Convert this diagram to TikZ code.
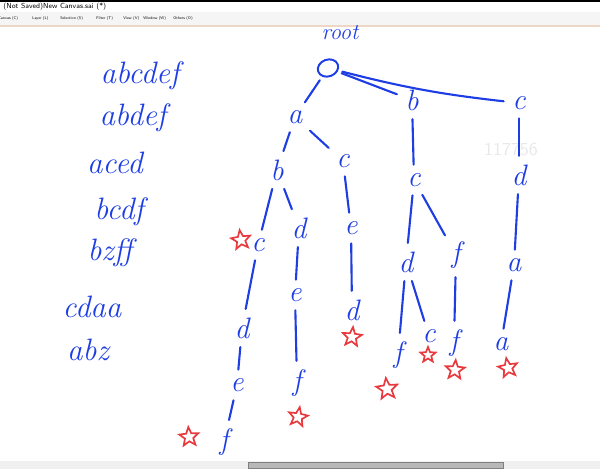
\documentclass[tikz,border=0pt]{standalone}
\usepackage{xcolor}
\usepackage{tikz}
\usetikzlibrary{shapes.geometric, calc}
\definecolor{penblue}{RGB}{30,62,228}
\definecolor{penred}{RGB}{232,58,62}
\definecolor{barline}{RGB}{238,214,196}
\tikzset{
  letter/.style={text=penblue,font=\fontsize{21}{24}\selectfont\itshape,inner sep=3pt},
  word/.style={text=penblue,font=\fontsize{22}{24}\selectfont\itshape,inner sep=0pt},
  br/.style={draw=penblue,line width=1.5pt,line cap=round,shorten <=3pt,shorten >=3pt},
  endstar/.style={star,star points=5,star point ratio=2.3,draw=penred,line width=1.2pt,
    minimum size=5mm,inner sep=0pt},
  menu/.style={font=\fontsize{2.8}{3.5}\selectfont\sffamily,inner sep=0pt,anchor=west}
}

\begin{document}
\begin{tikzpicture}[x=0.025cm,y=-0.025cm]
\useasboundingbox (0,0) rectangle (600,469);
% window chrome
\fill[black] (0,0) rectangle (600,1.5);
\fill[black!4] (0,12) rectangle (600,25);
\fill[barline] (0,25) rectangle (600,26.5);
\node[font=\fontsize{5.2}{6}\selectfont\sffamily,inner sep=0pt,anchor=west] (title) at (3,7) {(Not Saved)New Canvas.sai (*)};
\node[menu] (mcanvas) at (-2,18.5) {Canvas (C)};
\node[menu] (mlayer) at (32,18.5) {Layer (L)};
\node[menu] (msel) at (60,18.5) {Selection (S)};
\node[menu] (mfilter) at (96,18.5) {Filter (T)};
\node[menu] (mview) at (123,18.5) {View (V)};
\node[menu] (mwin) at (143,18.5) {Window (W)};
\node[menu] (mother) at (173,18.5) {Others (O)};
\fill[black!6] (0,461) rectangle (600,469);
\draw[fill=black!28,draw=black!50,line width=0.5pt] (248.5,462.5) rectangle (503.5,468.5);
\node[text=black!9,font=\fontsize{13}{15}\selectfont\sffamily] (mark) at (511,150) {117756};

% words
\node[word] (w1) at (140,76) {abcdef};
\node[word] (w2) at (133,118) {abdef};
\node[word] (w3) at (115,163) {aced};
\node[word] (w4) at (119,212) {bcdf};
\node[word] (w5) at (110,253) {bzff};
\node[word] (w6) at (92,307) {cdaa};
\node[word] (w7) at (88,350) {abz};

% trie
\node[letter,font=\fontsize{16}{18}\selectfont\itshape] (rootlbl) at (340,33) {root};
\node[ellipse,draw=penblue,line width=1.4pt,minimum width=0.52cm,minimum height=0.42cm,
  rotate=20] (o) at (328,68) {};
\node[letter] (a1) at (295,117) {a};
\node[letter] (b1) at (412,100) {b};
\node[letter] (c1) at (519,103) {c};
\node[letter] (b2) at (277,170) {b};
\node[letter] (c2) at (343,161) {c};
\node[letter] (c3) at (414,180) {c};
\node[letter] (d3) at (519,175) {d};
\node[letter] (c4) at (258,245) {c};
\node[letter] (d4) at (299,228) {d};
\node[letter] (e5) at (351,228) {e};
\node[letter] (d5) at (352,310) {d};
\node[letter] (d6) at (242,328) {d};
\node[letter] (e6) at (237,385) {e};
\node[letter] (f6) at (224,442) {f};
\node[letter] (e7) at (295,295) {e};
\node[letter] (f7) at (297,383) {f};
\node[letter] (d8) at (406,262) {d};
\node[letter] (f8) at (456,255) {f};
\node[letter] (f9) at (398,355) {f};
\node[letter] (c9) at (429,336) {c};
\node[letter] (f10) at (454,343) {f};
\node[letter] (a11) at (514,265) {a};
\node[letter] (a12) at (501,344) {a};

\draw[br] (o) -- (a1);
\draw[br] (o) -- (b1);
\draw[br] (o) to[bend right=4] (c1);
\draw[br] (a1) -- (b2);
\draw[br] (a1) -- (c2);
\draw[br] (b1) -- (c3);
\draw[br] (c1) -- (d3);
\draw[br] (b2) -- (c4);
\draw[br] (b2) -- (d4);
\draw[br] (c2) -- (e5);
\draw[br] (e5) -- (d5);
\draw[br] (c4) -- (d6);
\draw[br] (d6) -- (e6);
\draw[br] (e6) -- (f6);
\draw[br] (d4) -- (e7);
\draw[br] (e7) -- (f7);
\draw[br] (c3) -- (d8);
\draw[br] (c3) -- (f8);
\draw[br] (d8) -- (f9);
\draw[br] (d8) -- (c9);
\draw[br] (f8) -- (f10);
\draw[br] (d3) -- (a11);
\draw[br] (a11) -- (a12);

% end-of-word stars
\node[endstar,rotate=8] (s1) at (241,240) {};
\node[endstar,rotate=-6] (s2) at (352,337) {};
\node[endstar,rotate=4] (s3) at (189,437) {};
\node[endstar,rotate=-10] (s4) at (298,417) {};
\node[endstar,rotate=6,minimum size=5.5mm] (s5) at (387,389) {};
\node[endstar,minimum size=4mm] (s6) at (428,355) {};
\node[endstar,rotate=-4] (s7) at (455,370) {};
\node[endstar,rotate=10] (s8) at (508,368) {};
\end{tikzpicture}
\end{document}
